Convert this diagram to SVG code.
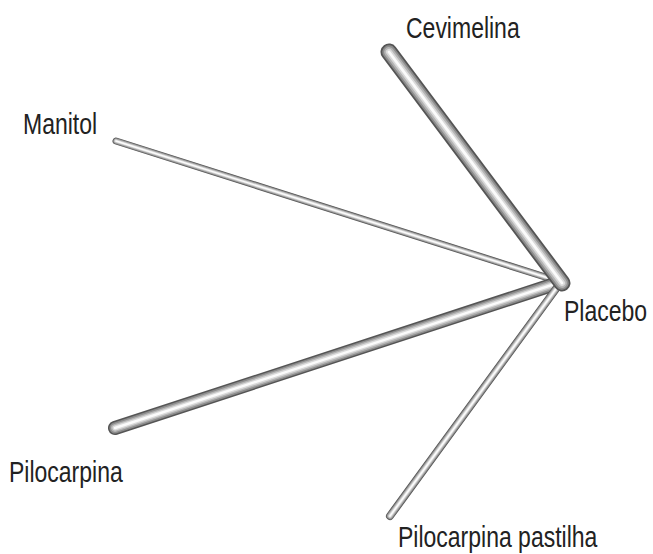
<svg xmlns="http://www.w3.org/2000/svg" width="653" height="554" viewBox="0 0 653 554">
<style>
  .bg { fill: #ffffff; }
  .lbl { font-family: "Liberation Sans", Arial, sans-serif; font-size: 23px; fill: #222222; }
  .tube line { stroke-linecap: round; fill: none; }
  .l1 { stroke: #555555; }
  .l2 { stroke: #8c8c8c; }
  .l3 { stroke: #b4b4b4; }
  .l4 { stroke: #dadada; }
  .l5 { stroke: #fbfbfb; }
</style>
<rect class="bg" x="0" y="0" width="653" height="554"/>
<g id="connectors">
  <g id="edge-manitol-placebo" class="tube">
    <line class="l1" x1="116" y1="141" x2="561" y2="282" stroke-width="7"/>
    <line class="l2" x1="116" y1="141" x2="561" y2="282" stroke-width="5.6"/>
    <line class="l3" x1="116" y1="141" x2="561" y2="282" stroke-width="4.2"/>
    <line class="l4" x1="116" y1="141" x2="561" y2="282" stroke-width="2.8"/>
    <line class="l5" x1="116" y1="141" x2="561" y2="282" stroke-width="1.4"/>
  </g>
  <g id="edge-pilocarpina-placebo" class="tube">
    <line class="l1" x1="115" y1="428" x2="561" y2="282" stroke-width="14"/>
    <line class="l2" x1="115" y1="428" x2="561" y2="282" stroke-width="11"/>
    <line class="l3" x1="115" y1="428" x2="561" y2="282" stroke-width="8"/>
    <line class="l4" x1="115" y1="428" x2="561" y2="282" stroke-width="5"/>
    <line class="l5" x1="115" y1="428" x2="561" y2="282" stroke-width="2.4"/>
  </g>
  <g id="edge-pastilha-placebo" class="tube">
    <line class="l1" x1="390" y1="516" x2="561" y2="282" stroke-width="8"/>
    <line class="l2" x1="390" y1="516" x2="561" y2="282" stroke-width="6.4"/>
    <line class="l3" x1="390" y1="516" x2="561" y2="282" stroke-width="4.8"/>
    <line class="l4" x1="390" y1="516" x2="561" y2="282" stroke-width="3.2"/>
    <line class="l5" x1="390" y1="516" x2="561" y2="282" stroke-width="1.6"/>
  </g>
  <g id="edge-cevimelina-placebo" class="tube">
    <line class="l1" x1="389" y1="52" x2="562" y2="283" stroke-width="17"/>
    <line class="l2" x1="389" y1="52" x2="562" y2="283" stroke-width="13.4"/>
    <line class="l3" x1="389" y1="52" x2="562" y2="283" stroke-width="9.8"/>
    <line class="l4" x1="389" y1="52" x2="562" y2="283" stroke-width="6.2"/>
    <line class="l5" x1="389" y1="52" x2="562" y2="283" stroke-width="2.8"/>
  </g>
</g>
<g id="node-cevimelina"><text class="lbl" transform="translate(406,38) scale(1,1.3)">Cevimelina</text></g>
<g id="node-manitol"><text class="lbl" transform="translate(23,134) scale(1,1.3)">Manitol</text></g>
<g id="node-placebo"><text class="lbl" transform="translate(564,321) scale(1,1.3)">Placebo</text></g>
<g id="node-pilocarpina"><text class="lbl" transform="translate(9,482) scale(1,1.3)">Pilocarpina</text></g>
<g id="node-pilocarpina-pastilha"><text class="lbl" transform="translate(398,547) scale(1,1.3)">Pilocarpina pastilha</text></g>
</svg>
